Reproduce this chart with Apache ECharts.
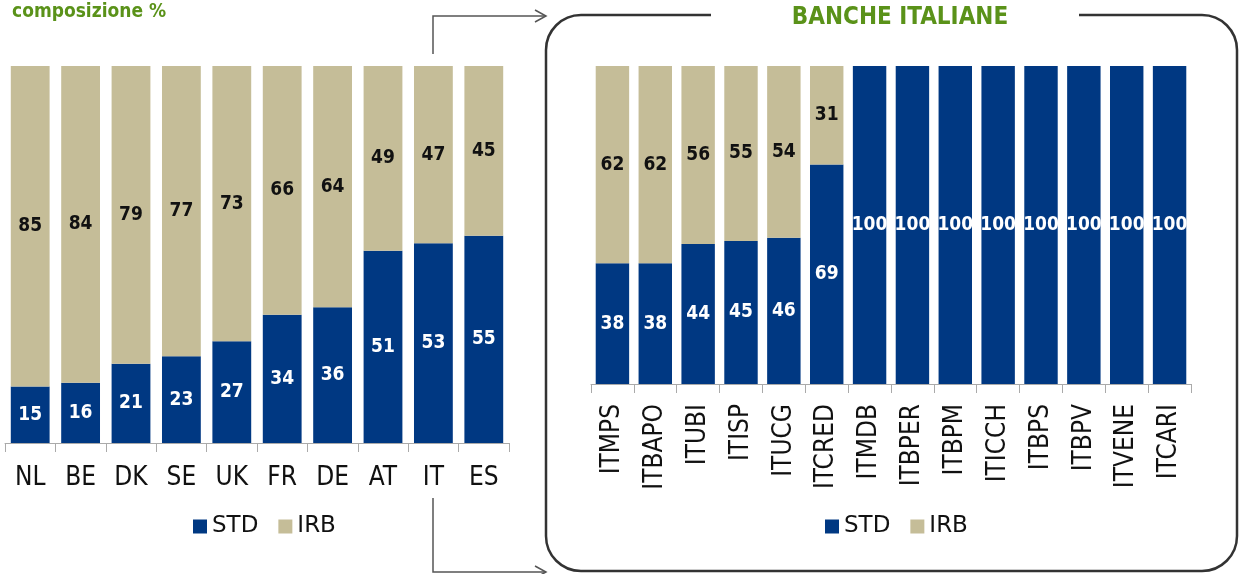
<!DOCTYPE html>
<html><head><meta charset="utf-8">
<script src="https://cdn.jsdelivr.net/npm/echarts@6/dist/echarts.min.js"></script>
<style>html,body{margin:0;padding:0;background:#fff}#c{width:1239px;height:574px}</style>
</head><body><div id="c"></div>
<script>
const countries = ['NL','BE','DK','SE','UK','FR','DE','AT','IT','ES'];
const stdCountry = [15,16,21,23,27,34,36,51,53,55];
const irbCountry = [85,84,79,77,73,66,64,49,47,45];
const banks = ['ITMPS','ITBAPO','ITUBI','ITISP','ITUCG','ITCRED','ITMDB','ITBPER','ITBPM','ITICCH','ITBPS','ITBPV','ITVENE','ITCARI'];
const stdBank = [38,38,44,45,46,69,100,100,100,100,100,100,100,100];
const irbBank = [62,62,56,55,54,31,0,0,0,0,0,0,0,0];

const FONT = '"DejaVu Sans Condensed", "DejaVu Sans", sans-serif';
const FONTW = '"DejaVu Sans", sans-serif';
const BLUE = '#003882';
const BEIGE = '#c5bd98';
const GREEN = '#5a9219';

const chart = echarts.init(document.getElementById('c'));
const hideZero = p => (p.value ? String(p.value) : '');
function lbl(color){
  return {show:true, position:'inside', color:color, fontFamily:FONT, fontWeight:'bold', fontSize:19, formatter:hideZero};
}
const axisCommon = {
  type:'category',
  axisLine:{show:true, lineStyle:{color:'#aaa', width:1}},
  axisTick:{show:true, length:9, lineStyle:{color:'#aaa'}},
};
chart.setOption({
  animation:false,
  color:[BLUE, BEIGE],
  legend:[
    {left:188, top:510, itemWidth:14, itemHeight:14, itemGap:20, icon:'rect',
     textStyle:{fontFamily:FONTW, fontSize:23, color:'#111'}, data:['STD','IRB']},
    {left:820, top:510, itemWidth:14, itemHeight:14, itemGap:20, icon:'rect',
     textStyle:{fontFamily:FONTW, fontSize:23, color:'#111'}, data:['STD','IRB']}
  ],
  grid:[
    {left:5, right:730, top:66, bottom:131},
    {left:591, right:48, top:66, bottom:190}
  ],
  xAxis:[
    Object.assign({gridIndex:0, data:countries,
      axisLabel:{margin:22, fontFamily:FONT, fontSize:26, color:'#111'}}, axisCommon),
    Object.assign({gridIndex:1, data:banks,
      axisLabel:{rotate:90, margin:20, fontFamily:FONT, fontSize:26, color:'#111'}}, axisCommon)
  ],
  yAxis:[
    {gridIndex:0, type:'value', min:0, max:100, show:false},
    {gridIndex:1, type:'value', min:0, max:100, show:false}
  ],
  series:[
    {name:'STD', type:'bar', stack:'a', xAxisIndex:0, yAxisIndex:0, data:stdCountry, barCategoryGap:'23%', label:lbl('#fff')},
    {name:'IRB', type:'bar', stack:'a', xAxisIndex:0, yAxisIndex:0, data:irbCountry, barCategoryGap:'23%', label:lbl('#111')},
    {name:'STD', type:'bar', stack:'b', xAxisIndex:1, yAxisIndex:1, data:stdBank, barCategoryGap:'22%', label:lbl('#fff')},
    {name:'IRB', type:'bar', stack:'b', xAxisIndex:1, yAxisIndex:1, data:irbBank, barCategoryGap:'22%', label:lbl('#111')}
  ],
  graphic:[
    {type:'text', left:12, top:3, style:{text:'composizione %', fill:GREEN, font:'bold 19px '+FONT}},
    {type:'rect', shape:{x:546, y:15, width:691, height:556, r:35}, style:{fill:'none', stroke:'#333', lineWidth:2.5}, z:10},
    {type:'rect', shape:{x:711, y:10, width:368, height:12}, style:{fill:'#fff'}, z:11},
    {type:'text', x:900, y:18, style:{text:'BANCHE ITALIANE', fill:GREEN, font:'bold 24px '+FONT, align:'center', verticalAlign:'middle'}, z:12},
    {type:'polyline', shape:{points:[[433,54],[433,16],[546,16]]}, style:{stroke:'#555', lineWidth:1.5, fill:'none'}, z:10},
    {type:'polyline', shape:{points:[[535,10],[546,16],[535,22]]}, style:{stroke:'#555', lineWidth:1.5, fill:'none'}, z:10},
    {type:'polyline', shape:{points:[[433,498],[433,572],[546,572]]}, style:{stroke:'#555', lineWidth:1.5, fill:'none'}, z:10},
    {type:'polyline', shape:{points:[[535,566],[546,572],[535,578]]}, style:{stroke:'#555', lineWidth:1.5, fill:'none'}, z:10}
  ]
});
</script></body></html>
